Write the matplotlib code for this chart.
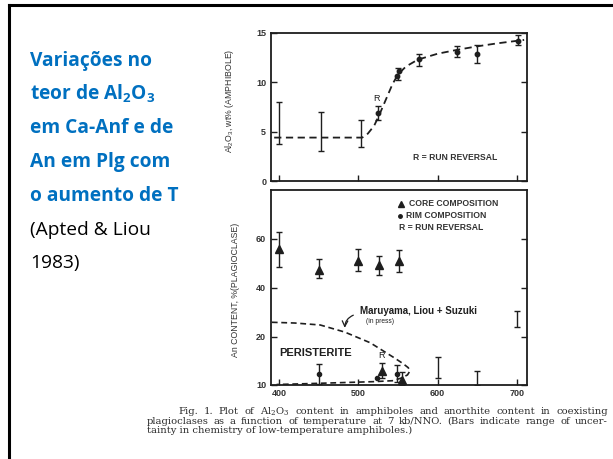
import numpy as np
import matplotlib
matplotlib.use('Agg')
import matplotlib.pyplot as plt
from matplotlib.lines import Line2D

plt.rcParams['mathtext.fontset'] = 'custom'
plt.rcParams['mathtext.rm'] = 'DejaVu Serif'
plt.rcParams['mathtext.bf'] = 'Open Sans:bold'
plt.rcParams['mathtext.sf'] = 'Liberation Sans'

# ---------------- data ----------------
# Top panel: Al2O3 wt% in amphibole vs temperature
al_pt_temp = [525, 549, 551, 577, 624, 649, 701]
al_pt_val = [6.9, 10.6, 11.1, 12.4, 13.1, 12.9, 14.2]
al_bar_temp = [400, 453, 503, 525, 550, 577, 624, 649, 701]
al_bar_lo = [3.8, 3.0, 3.4, 6.2, 10.2, 11.7, 12.6, 12.0, 13.8]
al_bar_hi = [8.0, 7.0, 6.2, 7.6, 11.5, 12.9, 13.7, 13.8, 14.8]
al_curve_temp = [394, 430, 470, 505, 512, 520, 527, 535, 543, 550, 560, 575, 600, 625, 650, 675, 709]
al_curve_val = [4.4, 4.4, 4.4, 4.4, 4.8, 5.6, 6.8, 8.3, 9.8, 10.8, 11.6, 12.3, 12.9, 13.3, 13.65, 13.95, 14.3]

# Bottom panel: An content in plagioclase vs temperature
core_temp = [400, 450, 500, 526, 551, 530, 555]
core_an = [56, 47.5, 51, 49.5, 51, 12.9, 11.0]
rim_temp = [450, 524, 549]
rim_an = [12.3, 11.5, 12.3]
an_bar_temp = [400, 450, 500, 526, 551, 450, 530, 549, 555, 600, 650, 700]
an_bar_lo = [48.5, 44, 47, 45.5, 46.5, 10.3, 11.5, 10.6, 10.0, 11.5, 10.0, 24.0]
an_bar_hi = [63, 52, 56, 53, 55.5, 14.4, 14.6, 14.2, 12.7, 15.8, 12.9, 30.6]
per_curve_temp = [391, 420, 452, 483, 515, 544, 556, 563, 565, 562, 555, 544, 520, 480, 440, 397]
per_curve_an = [26, 25.7, 24.9, 22, 18.8, 15.8, 14.5, 13.6, 12.9, 12.1, 11.5, 10.9, 10.7, 10.5, 10.3, 10.1]

x_ticks = [400, 500, 600, 700]
top_yticks = [0, 5, 10, 15]
bot_yticks = [10, 20, 40, 60]

ink = '#1e1e1e'
blue = '#0070C0'

W, H = 613, 459
fig = plt.figure(figsize=(W / 100, H / 100), dpi=100)
fig.patch.set_facecolor('white')

def fx(px):
    return px / W

def fy(py):
    return 1 - py / H

# slide frame
fig.add_artist(Line2D([fx(9), fx(9)], [fy(5), 0], color='black', lw=2.2))
fig.add_artist(Line2D([fx(9), 1], [fy(5), fy(5)], color='black', lw=2.2))

# left slide text
lines_blue = ['Variações no', 'teor de Al$_\\mathbf{2}$O$_\\mathbf{3}$', 'em Ca-Anf e de',
              'An em Plg com', 'o aumento de T']
base = [66, 100, 133, 167, 201]
for s, b in zip(lines_blue, base):
    fig.text(fx(30), fy(b), s, color=blue, fontsize=13.8, fontweight='bold',
             family='Open Sans', va='baseline', ha='left', math_fontfamily='custom')
for s, b in zip(['(Apted & Liou', '1983)'], [235, 268]):
    fig.text(fx(30), fy(b), s, color='black', fontsize=13.8, family='Open Sans',
             va='baseline', ha='left')

# ---------------- axes ----------------
ax1 = fig.add_axes([fx(271), fy(181), fx(527) - fx(271), fy(33) - fy(181)])
ax2 = fig.add_axes([fx(271), fy(385), fx(527) - fx(271), fy(190) - fy(385)])

def fwd(y):
    y = np.asarray(y, dtype=float)
    return np.where(y >= 20, y, 20 - (20 - y) * 1.96)

def inv(z):
    z = np.asarray(z, dtype=float)
    return np.where(z >= 20, z, 20 - (20 - z) / 1.96)

ax2.set_yscale('function', functions=(fwd, inv))

for ax in (ax1, ax2):
    ax.set_xlim(390, 712.6)
    for sp in ax.spines.values():
        sp.set_linewidth(1.3)
        sp.set_color(ink)
    ax.set_xticks(x_ticks)
    ax.tick_params(axis='x', direction='in', length=4, width=1, colors=ink,
                   labelsize=6.5, pad=3)
    ax.tick_params(axis='y', which='both', direction='in', length=4, width=1,
                   colors=ink, labelsize=6.5, right=True, left=True)

ax1.set_ylim(0, 15)
ax1.set_yticks(top_yticks)
ax1.set_xticklabels([])
ax2.set_ylim(10, 80)
ax2.set_yticks(bot_yticks)
for lab in ax2.get_xticklabels() + ax2.get_yticklabels() + ax1.get_yticklabels():
    lab.set_fontweight('bold')
    lab.set_family('Liberation Sans')
    lab.set_color('#333333')

# top panel content
ax1.plot(al_curve_temp, al_curve_val, ls=(0, (4, 2.5)), color=ink, lw=1.3)
al_mid = (np.array(al_bar_lo) + np.array(al_bar_hi)) / 2
al_err = (np.array(al_bar_hi) - np.array(al_bar_lo)) / 2
ax1.errorbar(al_bar_temp, al_mid, yerr=al_err, fmt='none', ecolor=ink,
             elinewidth=1.0, capsize=2.2, capthick=1.0)
ax1.plot(al_pt_temp, al_pt_val, 'o', color=ink, ms=3.2)
ax1.text(523, 7.9, 'R', fontsize=6.5, color=ink, family='Liberation Sans',
         ha='center', va='bottom')
ax1.text(569, 2.4, 'R = RUN REVERSAL', fontsize=6.2, fontweight='bold',
         color='#333333', family='Liberation Sans', ha='left', va='center')
ax1.set_ylabel('Al$_\\mathsf{2}$O$_\\mathsf{3}$, wt% (AMPHIBOLE)', fontsize=6.3,
               family='Liberation Sans', color='#333333', math_fontfamily='custom')
ax1.yaxis.set_label_coords(-0.135, 0.54)

# bottom panel content
ax2.plot(per_curve_temp, per_curve_an, ls=(0, (3.5, 2.2)), color=ink, lw=1.2)
an_mid = (np.array(an_bar_lo) + np.array(an_bar_hi)) / 2
an_err = (np.array(an_bar_hi) - np.array(an_bar_lo)) / 2
ax2.errorbar(an_bar_temp, an_mid, yerr=an_err, fmt='none', ecolor=ink,
             elinewidth=1.0, capsize=2.2, capthick=1.0)
ax2.plot(core_temp, core_an, '^', color=ink, ms=5.5)
ax2.plot(rim_temp, rim_an, 'o', color=ink, ms=3.0)
ax2.text(529, 15.2, 'R', fontsize=6.5, color=ink, family='Liberation Sans',
         ha='center', va='bottom')
ax2.text(400, 16.7, 'PERISTERITE', fontsize=8, fontweight='bold', color=ink,
         family='Liberation Sans', ha='left', va='center')
ax2.text(502, 30.6, 'Maruyama, Liou + Suzuki', fontsize=7, fontweight='bold',
         color=ink, family='Liberation Sans', ha='left', va='center')
ax2.text(527, 26.3, '(in press)', fontsize=4.8, color=ink,
         family='Liberation Sans', ha='center', va='center')
ax2.annotate('', xy=(483, 22.6), xytext=(497, 29.3),
             arrowprops=dict(arrowstyle='->', color=ink, lw=0.9,
                             connectionstyle='arc3,rad=0.4'))

# legend-like text block
ax2.plot([554], [74.3], '^', color=ink, ms=4.5)
ax2.plot([553], [69.4], 'o', color=ink, ms=2.5)
ax2.text(564, 74.3, 'CORE COMPOSITION', fontsize=6.2, fontweight='bold',
         color='#333333', family='Liberation Sans', va='center')
ax2.text(560, 69.4, 'RIM COMPOSITION', fontsize=6.2, fontweight='bold',
         color='#333333', family='Liberation Sans', va='center')
ax2.text(551.5, 64.5, 'R = RUN REVERSAL', fontsize=6.2, fontweight='bold',
         color='#333333', family='Liberation Sans', va='center')

ax2.set_ylabel('An CONTENT, %(PLAGIOCLASE)', fontsize=6.3,
               family='Liberation Sans', color='#333333')
ax2.yaxis.set_label_coords(-0.122, 0.49)

# caption (first two lines justified)
cap = ['Fig. 1. Plot of Al$_\\mathrm{2}$O$_\\mathrm{3}$ content in amphiboles and anorthite content in coexisting',
       'plagioclases as a function of temperature at 7 kb/NNO. (Bars indicate range of uncer-',
       'tainty in chemistry of low-temperature amphiboles.)']
cap_x0 = [178, 147, 147]
cap_x1 = [608, 608, None]
cap_y = [412, 421.5, 430.5]
renderer = fig.canvas.get_renderer()
for s, x0, x1, y in zip(cap, cap_x0, cap_x1, cap_y):
    kw = dict(fontsize=7.2, family='DejaVu Serif', color='#2a2a2a',
              va='center', ha='left', math_fontfamily='custom')
    if x1 is None:
        fig.text(fx(x0), fy(y), s, **kw)
        continue
    words = s.split(' ')
    objs = [fig.text(fx(x0), fy(y), w, **kw) for w in words]
    widths = [o.get_window_extent(renderer).width for o in objs]
    gap = (x1 - x0 - sum(widths)) / (len(words) - 1)
    xc = x0
    for o, wd in zip(objs, widths):
        o.set_x(fx(xc))
        xc += wd + gap

fig.savefig('out.png', dpi=100)
